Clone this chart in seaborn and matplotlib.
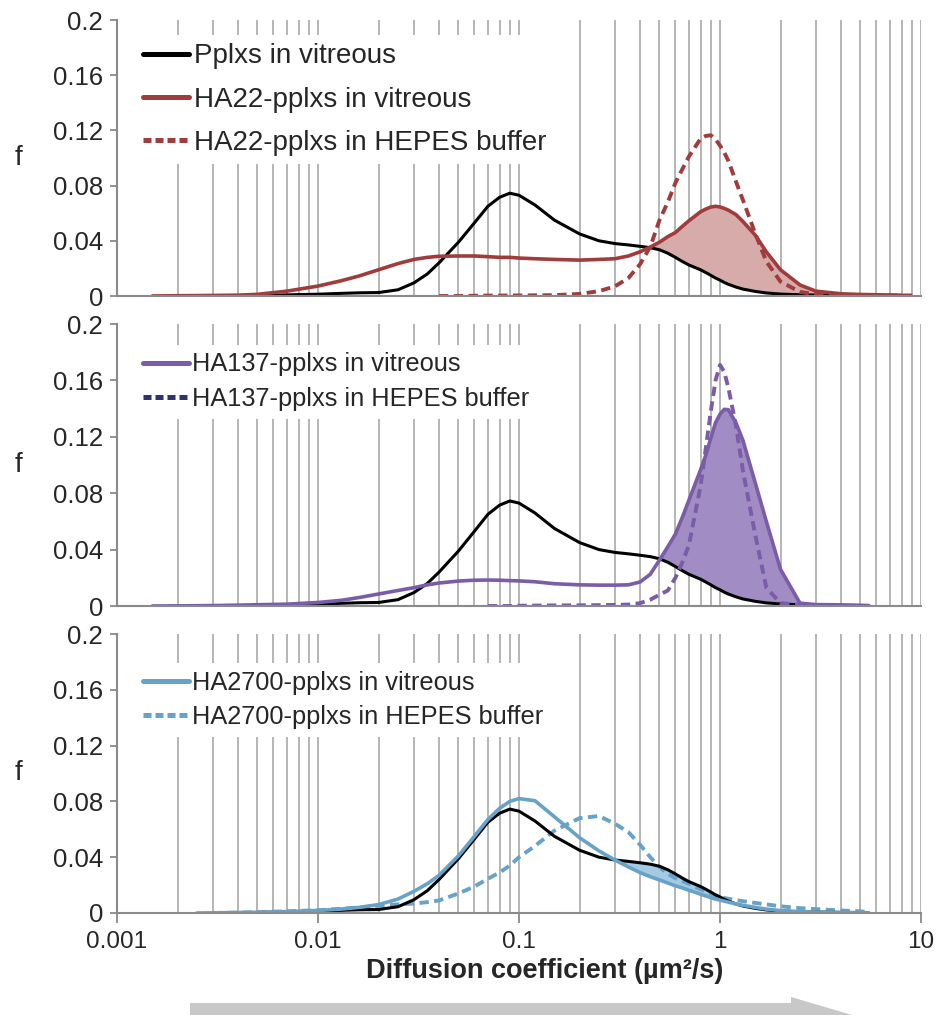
import numpy as np
import seaborn as sns
import matplotlib.pyplot as plt
from matplotlib.lines import Line2D
from matplotlib.patches import Polygon
from matplotlib.ticker import LogLocator, NullFormatter

nan = np.nan

# diffusion coefficient grid (um^2/s)
diff_coef = [0.0015, 0.002, 0.0025, 0.003, 0.004, 0.005, 0.007, 0.01, 0.013, 0.016,
             0.02, 0.025, 0.03, 0.035, 0.04, 0.05, 0.06, 0.07, 0.08, 0.09,
             0.1, 0.12, 0.15, 0.2, 0.25, 0.3, 0.35, 0.4, 0.45, 0.5,
             0.55, 0.6, 0.65, 0.7, 0.8, 0.85, 0.9, 0.95, 1.0, 1.05,
             1.1, 1.2, 1.3, 1.5, 1.7, 2.0, 2.5, 3.0, 4.0, 5.0,
             5.5, 6.5, 8.0, 9.5]

pplxs_vitreous = [nan, nan, nan, 0.0, 0.0, 0.0003, 0.0008, 0.0013, 0.0019, 0.0023,
                  0.0025, 0.0045, 0.0095, 0.016, 0.024, 0.039, 0.053, 0.065, 0.0715, 0.0745,
                  0.073, 0.066, 0.055, 0.045, 0.040, 0.038, 0.037, 0.036, 0.035, 0.0335,
                  0.031, 0.028, 0.025, 0.0225, 0.019, 0.017, 0.015, 0.013, 0.0115, 0.0098,
                  0.0085, 0.0065, 0.005, 0.0033, 0.0022, 0.0014, 0.0009, 0.0007, 0.0004, 0.0003,
                  0.0, nan, nan, nan]

ha22_vitreous = [0.0, 0.0002, 0.0003, 0.0004, 0.0006, 0.0012, 0.0035, 0.0072, 0.011, 0.0145,
                 0.019, 0.0235, 0.0265, 0.028, 0.0288, 0.029, 0.029, 0.0285, 0.028, 0.028,
                 0.0275, 0.027, 0.0265, 0.026, 0.0265, 0.027, 0.029, 0.032, 0.0355, 0.039,
                 0.043, 0.046, 0.0505, 0.0545, 0.061, 0.063, 0.0645, 0.065, 0.0645, 0.0635,
                 0.0622, 0.059, 0.054, 0.044, 0.032, 0.019, 0.008, 0.0035, 0.0016, 0.0011,
                 0.001, 0.0008, 0.0006, nan]

ha22_hepes = [nan, nan, nan, nan, nan, nan, nan, nan, nan, nan,
              nan, nan, nan, nan, 0.0, 0.0, 0.0002, 0.0003, 0.0003, 0.0004,
              0.0004, 0.0005, 0.0006, 0.0015, 0.0035, 0.007, 0.013, 0.023, 0.0357, 0.055,
              0.068, 0.082, 0.092, 0.101, 0.114, 0.116, 0.1165, 0.1135, 0.109, 0.104,
              0.098, 0.083, 0.0696, 0.045, 0.025, 0.0104, 0.003, 0.0012, 0.0008, 0.0006,
              0.0005, 0.0004, 0.0004, 0.0004]

ha137_vitreous = [0.0, 0.0001, 0.0002, 0.0003, 0.0006, 0.0009, 0.0013, 0.0025, 0.004, 0.006,
                  0.0085, 0.011, 0.013, 0.015, 0.0163, 0.0177, 0.0183, 0.0184, 0.0183, 0.018,
                  0.0178, 0.0172, 0.0158, 0.015, 0.0148, 0.0148, 0.015, 0.017, 0.0225, 0.0326,
                  0.042, 0.051, 0.063, 0.075, 0.0965, 0.107, 0.119, 0.13, 0.136, 0.1395,
                  0.1392, 0.13, 0.1175, 0.087, 0.060, 0.026, 0.002, 0.001, 0.0008, 0.0005,
                  0.0003, nan, nan, nan]

ha137_hepes = [nan, nan, nan, nan, nan, nan, nan, nan, nan, nan,
               nan, nan, nan, nan, nan, nan, nan, 0.0, 0.0, 0.0,
               0.0002, 0.0003, 0.0004, 0.0005, 0.0006, 0.0008, 0.001, 0.002, 0.0045, 0.008,
               0.011, 0.02, 0.031, 0.043, 0.085, 0.112, 0.138, 0.16, 0.171, 0.166,
               0.155, 0.128, 0.096, 0.05, 0.013, 0.002, 0.0008, 0.0005, nan, nan,
               nan, nan, nan, nan]

ha2700_vitreous = [nan, nan, 0.0, 0.0001, 0.0003, 0.0005, 0.001, 0.0018, 0.0028, 0.004,
                   0.006, 0.01, 0.0155, 0.021, 0.027, 0.041, 0.055, 0.067, 0.075, 0.080,
                   0.082, 0.0805, 0.069, 0.054, 0.0445, 0.038, 0.033, 0.029, 0.026, 0.0237,
                   0.0215, 0.0195, 0.018, 0.0163, 0.0135, 0.0122, 0.011, 0.010, 0.0092, 0.0085,
                   0.0078, 0.0065, 0.0055, 0.004, 0.0028, 0.0017, 0.001, 0.0007, 0.0004, 0.0003,
                   0.0, nan, nan, nan]

ha2700_hepes = [nan, nan, nan, 0.0, 0.0003, 0.0006, 0.0012, 0.002, 0.003, 0.004,
                0.0052, 0.0062, 0.0068, 0.0078, 0.009, 0.014, 0.019, 0.0245, 0.029, 0.034,
                0.040, 0.048, 0.059, 0.068, 0.0695, 0.064, 0.058, 0.049, 0.040, 0.033,
                0.028, 0.025, 0.023, 0.021, 0.017, 0.0155, 0.014, 0.0125, 0.0115, 0.0108,
                0.0102, 0.0092, 0.0085, 0.0072, 0.0062, 0.0048, 0.0035, 0.0028, 0.0018, 0.0012,
                0.0005, nan, nan, nan]

y_ticks = [0, 0.04, 0.08, 0.12, 0.16, 0.2]
y_tick_labels = ["0", "0.04", "0.08", "0.12", "0.16", "0.2"]
x_ticks = [0.001, 0.01, 0.1, 1, 10]
x_tick_labels = ["0.001", "0.01", "0.1", "1", "10"]

RED = "#a03c3c"
PURPLE = "#7a5ca8"
NAVY = "#2e3272"
BLUE = "#67a2c8"
GRID = "#a9a9a9"
SPINE = "#8a8a8a"

sns.set_style("white")
plt.rcParams["font.family"] = ["Liberation Sans", "DejaVu Sans"]

fig = plt.figure(figsize=(9.36, 10.15), dpi=100)
W, H = 936.0, 1015.0


def panel_axes(top, bottom):
    return fig.add_axes([117 / W, 1 - bottom / H, 804 / W, (bottom - top) / H])


def style_panel(ax, show_x):
    ax.set_xlim(0.001, 10)
    ax.set_ylim(0, 0.2)
    ax.xaxis.set_minor_locator(LogLocator(base=10, subs=range(2, 10), numticks=20))
    ax.xaxis.set_minor_formatter(NullFormatter())
    ax.grid(True, axis="x", which="both", color=GRID, lw=1.2)
    ax.grid(False, axis="y")
    ax.set_axisbelow(True)
    for side in ["top", "right"]:
        ax.spines[side].set_visible(False)
    for side in ["left", "bottom"]:
        ax.spines[side].set_color(SPINE)
        ax.spines[side].set_linewidth(1.5)
    ax.set_yticks(y_ticks)
    ax.set_yticklabels(y_tick_labels)
    ax.tick_params(axis="y", which="major", left=True, length=5, width=1.3,
                   color=SPINE, labelsize=18.5, pad=5)
    ax.set_xticks(x_ticks)
    if show_x:
        ax.set_xticklabels(x_tick_labels)
        ax.tick_params(axis="x", which="major", bottom=True, length=7, width=1.3,
                       color=SPINE, labelsize=17.5, pad=6)
        ax.tick_params(axis="x", which="minor", length=0)
    else:
        ax.tick_params(axis="x", which="both", length=0, labelbottom=False)
    ax.set_xlabel("")
    ax.set_ylabel("f", rotation=0, fontsize=20, ha="center", va="center")
    ax.yaxis.set_label_coords(-0.122, 0.5)


def line(ax, series, color, lw, dashed=False):
    kw = dict(linestyle=(0, (2.4, 1.4))) if dashed else {}
    sns.lineplot(x=diff_coef, y=series, ax=ax, color=color, lw=lw,
                 estimator=None, sort=False, **kw)


def add_legend(ax, entries, anchor_y, spacing, size):
    handles = [Line2D([], [], color=c, lw=3.6,
                      linestyle=(0, (1.6, 0.8)) if d else "-") for c, d, _ in entries]
    labels = [t for _, _, t in entries]
    leg = ax.legend(handles, labels, loc="upper left",
                    bbox_to_anchor=(0.0224, anchor_y), borderaxespad=0,
                    fontsize=size, handlelength=46 / (size * 1.389),
                    handletextpad=0.15, labelspacing=spacing, borderpad=0.3,
                    frameon=True, fancybox=False, framealpha=1,
                    facecolor="white", edgecolor="none")
    leg.set_zorder(5)


x = np.array(diff_coef)
black = np.array(pplxs_vitreous)

# panel 1
ax1 = panel_axes(20, 296)
ax1.set_xscale("log")
red = np.array(ha22_vitreous)
ax1.fill_between(x, black, red, where=(x >= 0.3) & (red >= black),
                 interpolate=True, color="#d8abab", lw=0, zorder=1)
line(ax1, pplxs_vitreous, "black", 2.2)
line(ax1, ha22_hepes, RED, 2.8, dashed=True)
line(ax1, ha22_vitreous, RED, 2.6)
style_panel(ax1, False)
add_legend(ax1, [("black", False, "Pplxs in vitreous"),
                 (RED, False, "HA22-pplxs in vitreous"),
                 (RED, True, "HA22-pplxs in HEPES buffer")], 0.9457, 0.62, 20)

# panel 2
ax2 = panel_axes(324, 606)
ax2.set_xscale("log")
purple = np.array(ha137_vitreous)
ax2.fill_between(x, black, purple, where=(x >= 0.3) & (purple >= black),
                 interpolate=True, color="#a18dc4", lw=0, zorder=1)
line(ax2, pplxs_vitreous, "black", 2.2)
line(ax2, ha137_hepes, PURPLE, 2.8, dashed=True)
line(ax2, ha137_vitreous, PURPLE, 2.6)
style_panel(ax2, False)
add_legend(ax2, [(PURPLE, False, "HA137-pplxs in vitreous"),
                 (NAVY, True, "HA137-pplxs in HEPES buffer")], 0.926, 0.42, 18.3)

# panel 3
ax3 = panel_axes(634, 913)
ax3.set_xscale("log")
blue = np.array(ha2700_vitreous)
ax3.fill_between(x, blue, black, where=(x >= 0.2) & (x <= 2) & (black >= blue),
                 interpolate=True, color="#a3cae2", lw=0, zorder=1)
line(ax3, ha2700_hepes, BLUE, 2.8, dashed=True)
line(ax3, pplxs_vitreous, "black", 2.2)
line(ax3, ha2700_vitreous, BLUE, 2.6)
style_panel(ax3, True)
add_legend(ax3, [(BLUE, False, "HA2700-pplxs in vitreous"),
                 (BLUE, True, "HA2700-pplxs in HEPES buffer")], 0.896, 0.42, 18.3)

fig.text(545 / W, 1 - 971 / H, "Diffusion coefficient (µm²/s)", ha="center",
         va="center", fontsize=19.5, fontweight="bold")

# grey direction arrow at the bottom
arrow_px = [(190, 1003), (791, 1003), (791, 997), (852, 1015), (791, 1033),
            (791, 1027), (190, 1027)]
fig.patches.append(Polygon([(px / W, 1 - py / H) for px, py in arrow_px],
                           closed=True, transform=fig.transFigure,
                           facecolor="#c8c8c8", edgecolor="none"))

fig.savefig("out.png", dpi=100)
